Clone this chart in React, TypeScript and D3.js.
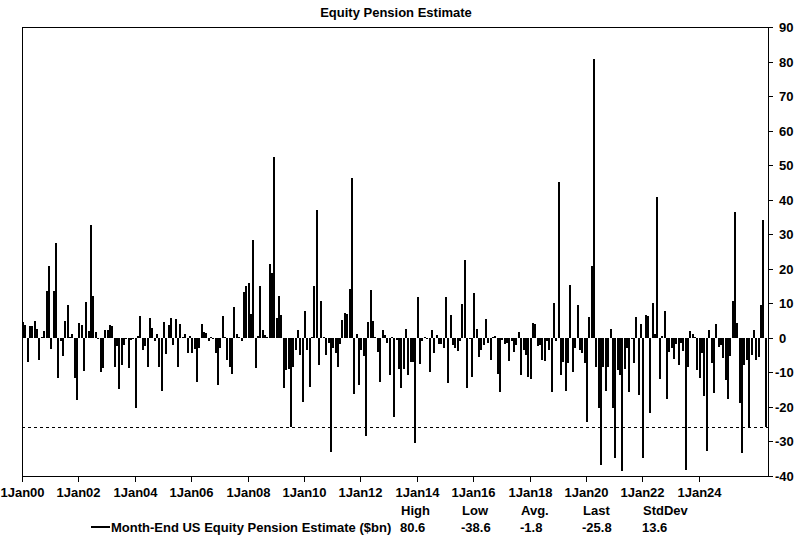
import { useRef, useEffect } from 'react';
import * as d3 from 'd3';

// Month-end estimates, $bn, Jan 2000 onward (one array per year)
const y2000 = [4.7, 3.8, -7.0, 3.3, 3.3, 5.0, 2.5, -6.4, 0.2, 2.0, 13.6, 20.7];
const y2001 = [-3.3, 13.6, 27.6, -11.5, -1.0, -5.4, 5.0, 9.6, 0.3, 1.0, -11.7, -18.0];
const y2002 = [4.4, 3.8, -9.5, 10.5, 2.0, 32.7, 12.0, 1.8, -0.3, -10.0, -8.8, 2.3];
const y2003 = [2.3, 3.8, 3.3, -8.3, -2.5, -14.9, -7.8, -2.0, -0.4, -8.8, -0.5, -0.3];
const y2004 = [-20.4, 0.4, 6.4, -3.5, -2.5, -8.3, 5.7, 2.8, -1.0, 1.0, -8.3, -15.3];
const y2005 = [4.7, -4.7, 3.8, 5.7, -2.0, 5.5, -8.3, 4.0, 0.3, 1.0, -4.4, 0.4];
const y2006 = [-4.4, -3.3, -12.7, -3.0, 4.0, 1.8, 1.3, -0.8, 0.2, -0.3, -4.4, -13.7];
const y2007 = [-3.0, 6.4, 0.2, -6.4, -8.3, -10.4, 8.9, 1.0, 0.3, -0.8, 13.4, 14.9];
const y2008 = [15.8, 7.0, 28.4, -8.8, 0.5, 14.9, 2.3, 0.8, 0.3, 21.4, 18.9, 52.3];
const y2009 = [5.7, 12.0, 6.7, -14.6, -9.3, -9.0, -25.7, -8.5, -3.5, 2.3, -4.9, -18.6];
const y2010 = [7.9, -3.5, -14.3, 0.3, 14.9, 37.1, -8.0, 10.7, 0.2, -4.9, -1.4, -33.0];
const y2011 = [-3.0, -4.4, -8.5, -1.7, 5.2, 7.1, 7.0, 14.2, 46.4, -16.2, 1.0, -13.6];
const y2012 = [-3.5, -5.4, -28.3, 4.7, 13.9, 4.9, 0.2, -4.0, -12.9, 2.3, 0.9, -1.5];
const y2013 = [-10.7, 0.2, -22.8, -0.6, -9.1, -14.6, -9.0, 2.5, -10.7, -6.9, -6.9, -30.5];
const y2014 = [11.8, -7.5, -0.8, 0.2, -0.3, -9.9, 2.3, -4.4, 0.9, -1.7, -1.7, -3.0];
const y2015 = [11.7, -13.1, 6.7, -2.0, -3.0, -3.8, -1.0, 9.9, 22.4, -14.6, -0.4, -11.4];
const y2016 = [13.1, 2.6, -5.6, -3.5, -2.0, 5.5, -1.4, -6.4, 0.2, 0.4, -10.4, -15.6];
const y2017 = [-0.6, -1.7, -1.4, -6.6, -1.0, -4.2, -2.0, 1.8, -10.7, -3.5, -4.9, -11.4];
const y2018 = [-12.0, 4.4, 4.0, -2.3, -2.0, -6.4, -6.6, -0.8, -3.5, -15.8, 10.2, -0.8];
const y2019 = [45.0, -10.7, -7.1, -15.3, -7.3, 15.4, -9.8, -3.0, 9.4, -3.5, -4.4, -7.3];
const y2020 = [-24.3, 5.9, 20.7, 80.6, -8.3, -20.4, -36.8, -8.5, -15.3, -8.3, 2.6, -20.4];
const y2021 = [-34.9, -9.3, -10.7, -38.6, -9.1, -3.0, -15.8, -0.4, -7.3, 5.9, -16.5, 4.0];
const y2022 = [-34.9, 6.7, 6.2, -21.8, 10.0, 1.2, 40.8, -12.0, 0.6, 7.8, -17.8, -4.0];
const y2023 = [-3.0, -6.2, -1.7, -7.8, -1.5, -3.8, -38.2, -8.3, 2.1, 1.1, 0.2, -9.3];
const y2024 = [-11.7, -4.3, -16.8, -32.8, 2.3, -7.3, -16.0, 4.0, -2.7, -2.0, -5.9, -12.2];
const y2025 = [-17.8, -5.4, 10.7, 36.5, 4.3, -18.9, -33.4, -7.8, -6.4, -25.9, -4.9, 2.3];
const y2026 = [-6.4, -5.6, 9.4, 34.2, -25.8];

const monthly = [
  ...y2000, ...y2001, ...y2002, ...y2003, ...y2004, ...y2005, ...y2006,
  ...y2007, ...y2008, ...y2009, ...y2010, ...y2011, ...y2012, ...y2013,
  ...y2014, ...y2015, ...y2016, ...y2017, ...y2018, ...y2019, ...y2020,
  ...y2021, ...y2022, ...y2023, ...y2024, ...y2025, ...y2026,
];

const seriesName = 'Month-End US Equity Pension Estimate ($bn)';
const statLabels = ['High', 'Low', 'Avg.', 'Last', 'StdDev'];
const statValues = ['80.6', '-38.6', '-1.8', '-25.8', '13.6'];
const yTicks = d3.range(-40, 91, 10);

const FONT = '"Liberation Sans", Arial, sans-serif';

export default function App() {
  const svgRef = useRef<SVGSVGElement>(null);

  useEffect(() => {
    const data = monthly.map((v, i) => ({ date: new Date(2000, i, 1), value: v }));
    const last = data[data.length - 1].value;

    const left = 22, right = 768, top = 27, bottom = 476;

    const svg = d3.select(svgRef.current)
      .html('')
      .attr('width', 800)
      .attr('height', 550)
      .style('font-family', FONT)
      .style('font-weight', 'bold')
      .style('font-size', '13px');

    const x = d3.scaleTime()
      .domain([new Date(2000, 0, 1), new Date(2026, 5, 15)])
      .range([left, right]);

    const y = d3.scaleLinear()
      .domain([-40, 90])
      .range([bottom, top]);

    // Title
    svg.append('text')
      .attr('x', (left + right) / 2 + 1)
      .attr('y', 17)
      .attr('text-anchor', 'middle')
      .text('Equity Pension Estimate');

    // Bars
    svg.append('g')
      .attr('shape-rendering', 'crispEdges')
      .selectAll('rect')
      .data(data)
      .enter()
      .append('rect')
      .attr('x', d => Math.round(x(d.date)))
      .attr('y', d => Math.min(y(d.value), y(0)))
      .attr('width', 2)
      .attr('height', d => Math.abs(y(d.value) - y(0)))
      .attr('fill', '#000');

    // Last value reference line
    svg.append('line')
      .attr('x1', left)
      .attr('x2', right)
      .attr('y1', Math.round(y(last)) + 0.5)
      .attr('y2', Math.round(y(last)) + 0.5)
      .attr('stroke', '#000')
      .attr('stroke-width', 1)
      .attr('stroke-dasharray', '3,3');

    // Frame
    svg.append('rect')
      .attr('x', left + 0.5)
      .attr('y', top + 0.5)
      .attr('width', right - left)
      .attr('height', bottom - top)
      .attr('fill', 'none')
      .attr('stroke', '#000')
      .attr('shape-rendering', 'crispEdges');

    // Right y axis; digits line up, minus sign hangs to the left
    const yAxis = svg.append('g').attr('shape-rendering', 'crispEdges');
    yTicks.forEach(t => {
      const ty = Math.round(y(t)) + 0.5;
      yAxis.append('line')
        .attr('x1', right).attr('x2', right + 5)
        .attr('y1', ty).attr('y2', ty)
        .attr('stroke', '#000');
      yAxis.append('text')
        .attr('x', t < 0 ? right + 7 : right + 11)
        .attr('y', ty + 4.5)
        .text(t);
    });

    // Bottom x axis, every two years
    const xTicks = d3.range(2000, 2025, 2).map(yr => new Date(yr, 0, 1));
    const fmt = d3.timeFormat('%-d%b%y');
    const xAxis = svg.append('g').attr('shape-rendering', 'crispEdges');
    xTicks.forEach(t => {
      const tx = Math.round(x(t)) + 0.5;
      xAxis.append('line')
        .attr('x1', tx).attr('x2', tx)
        .attr('y1', bottom).attr('y2', bottom + 6)
        .attr('stroke', '#000');
      xAxis.append('text')
        .attr('x', tx)
        .attr('y', 497)
        .attr('text-anchor', 'middle')
        .text(fmt(t));
    });

    // Legend with summary stats
    const cols = [400, 461, 520, 582, 642];
    statLabels.forEach((s, i) => {
      svg.append('text')
        .attr('x', cols[i] + 1)
        .attr('y', 515)
        .text(s);
      svg.append('text')
        .attr('x', cols[i])
        .attr('y', 531.5)
        .text(statValues[i]);
    });

    svg.append('line')
      .attr('x1', 91).attr('x2', 110)
      .attr('y1', 527).attr('y2', 527)
      .attr('stroke', '#000')
      .attr('stroke-width', 2);

    svg.append('text')
      .attr('x', 111)
      .attr('y', 531.5)
      .text(seriesName);
  }, []);

  return (
    <svg ref={svgRef} style={{ position: 'absolute', left: 0, top: 0, background: '#fff' }} />
  );
}
